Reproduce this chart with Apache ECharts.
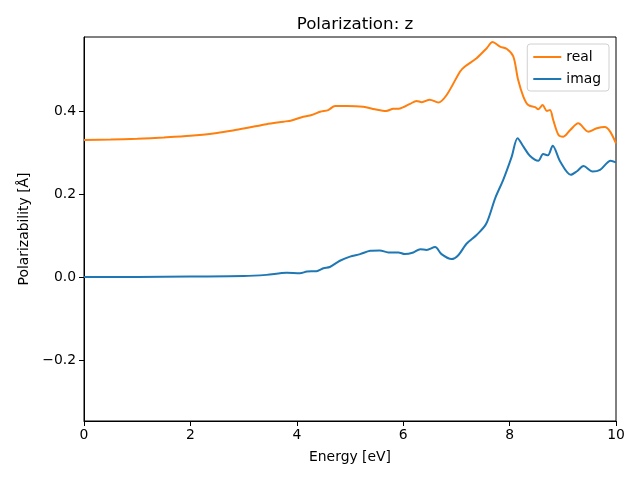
<!DOCTYPE html>
<html><head><meta charset="utf-8">
<script src="https://cdn.jsdelivr.net/npm/echarts@6/dist/echarts.min.js"></script>
<style>html,body{margin:0;padding:0;background:#fff}#c{width:640px;height:480px}</style>
</head><body><div id="c"></div>
<script>
var realX = [0,0.5,1.0,1.5,2.0,2.5,2.8,3.1,3.43,3.75,3.9,4.12,4.28,4.44,4.59,4.72,4.94,5.25,5.47,5.68,5.81,5.94,6.13,6.25,6.35,6.50,6.66,6.82,7.07,7.16,7.38,7.57,7.68,7.82,7.95,8.07,8.16,8.26,8.35,8.48,8.54,8.62,8.70,8.76,8.82,8.92,9.01,9.14,9.29,9.48,9.64,9.79,9.89,10.0];
var realY = [0.330,0.331,0.333,0.336,0.340,0.347,0.353,0.360,0.368,0.374,0.377,0.386,0.390,0.398,0.402,0.412,0.412,0.410,0.404,0.400,0.405,0.406,0.417,0.424,0.421,0.427,0.420,0.439,0.495,0.507,0.527,0.551,0.566,0.555,0.549,0.531,0.475,0.434,0.414,0.409,0.404,0.414,0.400,0.402,0.378,0.342,0.338,0.354,0.370,0.350,0.358,0.361,0.350,0.322];
var imagX = [0,1,2,3,3.43,3.81,4.06,4.19,4.37,4.5,4.62,4.81,5.0,5.19,5.38,5.56,5.72,5.91,6.03,6.19,6.32,6.44,6.60,6.72,6.91,7.04,7.19,7.38,7.56,7.73,7.88,8.04,8.15,8.26,8.38,8.54,8.63,8.72,8.81,8.95,9.15,9.26,9.39,9.56,9.70,9.90,10.0];
var imagY = [0.000,0.000,0.001,0.002,0.005,0.010,0.009,0.013,0.014,0.021,0.024,0.039,0.049,0.055,0.063,0.064,0.059,0.059,0.055,0.059,0.067,0.065,0.072,0.055,0.043,0.053,0.080,0.101,0.128,0.190,0.234,0.290,0.334,0.314,0.292,0.280,0.296,0.293,0.316,0.278,0.246,0.254,0.267,0.254,0.258,0.280,0.276];
var yTicks = [-0.2,0.0,0.2,0.4];
var xTicks = [0,2,4,6,8,10];

function pairs(xs, ys){ return xs.map(function(x,i){return [x, ys[i]];}); }
var font = 'DejaVu Sans';
var chart = echarts.init(document.getElementById('c'), null, {renderer:'canvas'});
chart.setOption({
  animation:false,
  backgroundColor:'#fff',
  title:{text:'Polarization: z', left:350, top:11, textAlign:'center',
    textStyle:{fontFamily:font, fontSize:16.7, fontWeight:'normal', color:'#000'}},
  grid:{left:84, right:24, top:37, bottom:59, show:true, borderColor:'#000', borderWidth:1, containLabel:false},
  legend:{right:31, top:44, orient:'vertical', backgroundColor:'rgba(255,255,255,0.8)',
    borderColor:'#d0d0d0', borderWidth:1, borderRadius:3, padding:[6,8,5,6], itemGap:8,
    itemWidth:28, itemHeight:2, icon:'rect',
    textStyle:{fontFamily:font, fontSize:13.9, color:'#000'},
    data:['real','imag']},
  xAxis:{type:'value', min:0, max:10, interval:2,
    name:'Energy [eV]', nameLocation:'middle', nameGap:29,
    nameTextStyle:{fontFamily:font, fontSize:13.9, color:'#000'},
    axisLine:{show:true, onZero:false, lineStyle:{color:'#000', width:1}},
    axisTick:{show:true, length:5, lineStyle:{color:'#000'}},
    axisLabel:{fontFamily:font, fontSize:13.9, color:'#000', margin:7, customValues:xTicks},
    splitLine:{show:false}},
  yAxis:{type:'value', min:-0.347, max:0.578,
    name:'Polarizability [Å]', nameLocation:'middle', nameGap:52,
    nameTextStyle:{fontFamily:font, fontSize:13.9, color:'#000'},
    axisLine:{show:true, onZero:false, lineStyle:{color:'#000', width:1}},
    axisTick:{show:true, length:5, lineStyle:{color:'#000'}, customValues:yTicks},
    axisLabel:{fontFamily:font, fontSize:13.9, color:'#000', margin:8, customValues:yTicks,
      formatter:function(v){ var s=v.toFixed(1); return s.replace('-','\u2212'); }},
    splitLine:{show:false}},
  series:[
    {name:'real', type:'line', data:pairs(realX, realY), showSymbol:false, symbol:'none', smooth:0.3,
      lineStyle:{color:'#ff7f0e', width:2}, itemStyle:{color:'#ff7f0e'}},
    {name:'imag', type:'line', data:pairs(imagX, imagY), showSymbol:false, symbol:'none', smooth:0.3,
      lineStyle:{color:'#1f77b4', width:2}, itemStyle:{color:'#1f77b4'}}
  ]
});
</script></body></html>
